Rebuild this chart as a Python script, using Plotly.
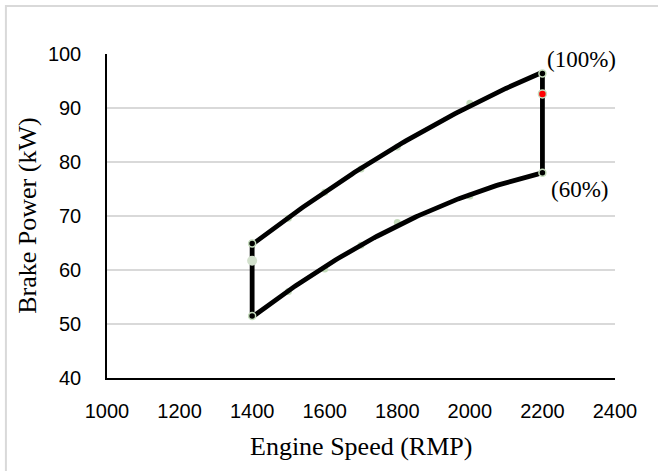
import numpy as np
import plotly.graph_objects as go

# Engine speed (rpm) and brake power (kW) at full and 60 % load
speed = [1400, 1500, 1600, 1700, 1800, 2000, 2200]
power_100 = [64.9, 69.6, 74.4, 78.7, 82.8, 90.9, 96.4]
power_60 = [51.5, 56.0, 60.2, 64.6, 68.8, 73.7, 78.0]

# Operating points on the vertical boundaries
low_speed = [1400, 1400, 1400]
low_speed_power = [51.5, 61.7, 64.9]
high_speed = [2200, 2200, 2200]
high_speed_power = [78.0, 92.6, 96.4]

x_ticks = [1000, 1200, 1400, 1600, 1800, 2000, 2200, 2400]
y_ticks = [40, 50, 60, 70, 80, 90, 100]

GREEN = "#c5dcbc"
SERIF = "Liberation Serif, Times New Roman, serif"
SANS = "Liberation Sans, Arial, sans-serif"


def trendline(xs, ys, order=2, n=120):
    """Least-squares polynomial trendline over the measured speed range."""
    coeffs = np.polyfit(xs, ys, order)
    xt = np.linspace(min(xs), max(xs), n)
    return xt, np.polyval(coeffs, xt)


fig = go.Figure()

# measured points, mostly covered by the trendlines
for ys in (power_100, power_60):
    fig.add_trace(go.Scatter(x=speed, y=ys, mode="markers",
                             marker=dict(size=7, color=GREEN),
                             showlegend=False, hoverinfo="skip"))

# polynomial trendlines of the two load curves
for ys in (power_100, power_60):
    xt, yt = trendline(speed, ys)
    fig.add_trace(go.Scatter(x=xt, y=yt, mode="lines",
                             line=dict(color="black", width=4.8),
                             showlegend=False))

# vertical speed limits
for xs, ys in ((low_speed, low_speed_power), (high_speed, high_speed_power)):
    fig.add_trace(go.Scatter(x=xs, y=ys, mode="lines",
                             line=dict(color="black", width=4.8),
                             showlegend=False))

# end points of the load curves
fig.add_trace(go.Scatter(x=[speed[0], speed[0], speed[-1], speed[-1]],
                         y=[power_100[0], power_60[0], power_100[-1], power_60[-1]],
                         mode="markers",
                         marker=dict(size=7, color="black",
                                     line=dict(color=GREEN, width=1.5)),
                         showlegend=False))

fig.add_trace(go.Scatter(x=[low_speed[1]], y=[low_speed_power[1]], mode="markers",
                         marker=dict(size=10, color="#d2e0cc"),
                         showlegend=False))
fig.add_trace(go.Scatter(x=[high_speed[1]], y=[high_speed_power[1]], mode="markers",
                         marker=dict(size=8, color="#ff0000",
                                     line=dict(color=GREEN, width=1.5)),
                         showlegend=False))

fig.add_annotation(x=high_speed[2], y=high_speed_power[2], text="(100%)",
                   showarrow=False, xanchor="left", yanchor="bottom",
                   xshift=3, yshift=-1, font=dict(family=SERIF, size=23, color="black"))
fig.add_annotation(x=high_speed[0], y=high_speed_power[0], text="(60%)",
                   showarrow=False, xanchor="left", yanchor="top",
                   xshift=7, yshift=-2, font=dict(family=SERIF, size=23, color="black"))

# axis titles
fig.add_annotation(xref="paper", yref="paper", x=0.5, y=-0.21,
                   text="Engine Speed (RMP)", showarrow=False,
                   xanchor="center", yanchor="middle",
                   font=dict(family=SERIF, size=26, color="black"))
fig.add_annotation(xref="paper", yref="paper", x=-0.158, y=0.5,
                   text="Brake Power (kW)", showarrow=False, textangle=-90,
                   xanchor="center", yanchor="middle",
                   font=dict(family=SERIF, size=26, color="black"))

# outer chart frame
fig.add_shape(type="rect", xref="paper", yref="paper",
              x0=-0.199, x1=1.2, y0=-0.4, y1=1.148,
              line=dict(color="#d9d9d9", width=2), layer="below")

fig.update_layout(
    width=658, height=471,
    margin=dict(l=107, r=43, t=54, b=93),
    paper_bgcolor="white", plot_bgcolor="white",
    showlegend=False,
    xaxis=dict(range=[1000, 2400], tickvals=x_ticks, showgrid=False,
               showline=True, linecolor="black", linewidth=1.5,
               zeroline=False, ticks="", ticklabelstandoff=14,
               tickfont=dict(family=SANS, size=20, color="black")),
    yaxis=dict(range=[40, 100], tickvals=y_ticks, showgrid=True,
               gridcolor="#d9d9d9", gridwidth=1.5,
               showline=True, linecolor="black", linewidth=1.5,
               zeroline=False, ticks="", ticklabelstandoff=20,
               tickfont=dict(family=SANS, size=20, color="black")),
)

fig.write_html("out.html")
